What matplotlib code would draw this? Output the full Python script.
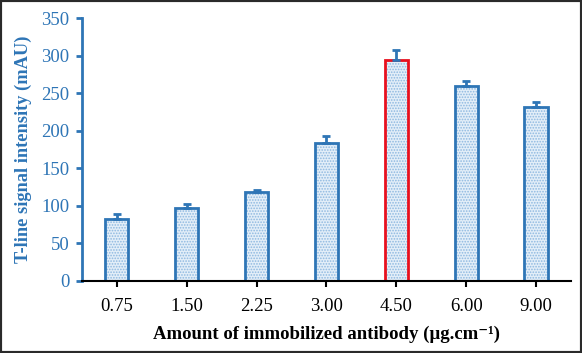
import matplotlib
matplotlib.use("Agg")
import matplotlib.pyplot as plt
from matplotlib.patches import Rectangle
import numpy as np

categories = ["0.75", "1.50", "2.25", "3.00", "4.50", "6.00", "9.00"]
values = [82, 97, 119, 184, 294, 260, 232]
errors = [7, 5, 2, 9, 14, 6, 6]
edge_colors = ["#2E75B6", "#2E75B6", "#2E75B6", "#2E75B6", "#E8101E", "#2E75B6", "#2E75B6"]
yticks = [0, 50, 100, 150, 200, 250, 300, 350]

blue = "#2E75B6"
plt.rcParams['font.family'] = ['Liberation Serif', 'DejaVu Serif']
plt.rcParams['hatch.linewidth'] = 0.8

fig = plt.figure(figsize=(5.82, 3.53), dpi=100)
ax = fig.add_axes([0.1409, 0.204, 0.981 - 0.1409, 0.949 - 0.204])

x = np.arange(len(categories))
w = 0.33
# fill with dotted pattern
ax.bar(x, values, width=w, color="#E3EEF8", edgecolor="#8DB8E0", hatch="......", linewidth=0, zorder=2)
# outlines
ax.bar(x, values, width=w, fill=False, edgecolor=edge_colors, linewidth=2, zorder=3)
ax.errorbar(x, values, yerr=[np.zeros(len(errors)), errors], fmt="none", ecolor=blue,
            elinewidth=2, capsize=3, capthick=2, zorder=4)

ax.set_xlim(-0.5, 6.5)
ax.set_ylim(0, 350)
ax.set_yticks(yticks)
ax.set_xticks(x)
ax.set_xticklabels(categories)

for s in ["top", "right"]:
    ax.spines[s].set_visible(False)
ax.spines["left"].set_color(blue)
ax.spines["left"].set_linewidth(2)
ax.spines["bottom"].set_color("black")
ax.spines["bottom"].set_linewidth(1.5)
ax.spines["bottom"].set_zorder(5)

ax.tick_params(axis="y", colors=blue, labelsize=13.5, length=4, width=2, pad=5)
ax.tick_params(axis="x", colors="black", labelsize=13.5, length=4, width=1.5, pad=8)

ax.set_ylabel("T-line signal intensity (mAU)", color=blue, fontsize=13.2, fontweight="bold", labelpad=7)
ax.set_xlabel("Amount of immobilized antibody (µg.cm\u207b\u00b9)", color="black", fontsize=13.5,
              fontweight="bold", labelpad=8)

fig.patches.append(Rectangle((0, 0), 1, 1, transform=fig.transFigure, fill=False,
                             edgecolor="#2a2a2a", linewidth=3, zorder=10))

fig.savefig("out.png", dpi=100)
